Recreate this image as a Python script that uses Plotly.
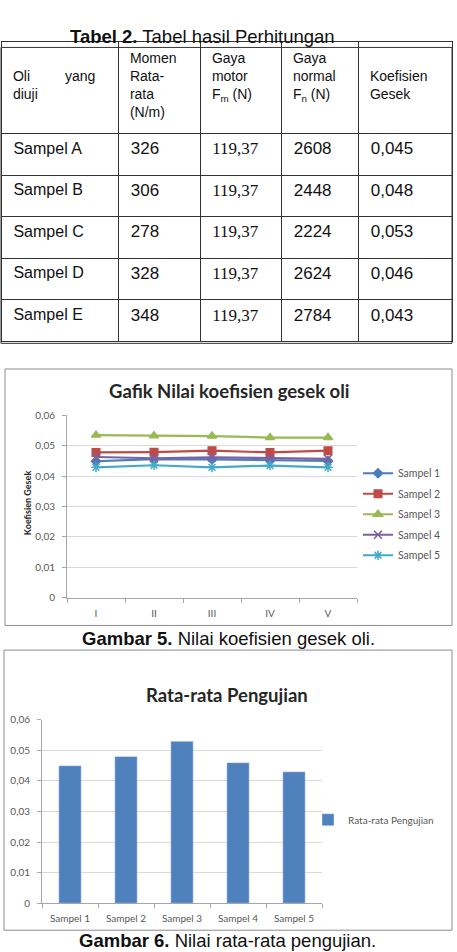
import plotly.graph_objects as go

W, H = 457, 952

# ---------------- data ----------------
table_header = ["Oli yang diuji", "Momen Rata-rata (N/m)", "Gaya motor Fm (N)",
                "Gaya normal Fn (N)", "Koefisien Gesek"]
oli = ["Sampel A", "Sampel B", "Sampel C", "Sampel D", "Sampel E"]
momen = ["326", "306", "278", "328", "348"]
gaya_motor = ["119,37", "119,37", "119,37", "119,37", "119,37"]
gaya_normal = ["2608", "2448", "2224", "2624", "2784"]
koef = ["0,045", "0,048", "0,053", "0,046", "0,043"]

pengujian = ["I", "II", "III", "IV", "V"]
series_names = ["Sampel 1", "Sampel 2", "Sampel 3", "Sampel 4", "Sampel 5"]
sampel1 = [0.0449, 0.0456, 0.0455, 0.0452, 0.0450]
sampel2 = [0.0478, 0.0479, 0.0484, 0.0478, 0.0484]
sampel3 = [0.0535, 0.0533, 0.0532, 0.0527, 0.0527]
sampel4 = [0.0463, 0.0459, 0.0462, 0.0459, 0.0457]
sampel5 = [0.0429, 0.0436, 0.0429, 0.0435, 0.0429]

bar_categories = ["Sampel 1", "Sampel 2", "Sampel 3", "Sampel 4", "Sampel 5"]
rata_rata = [0.045, 0.048, 0.053, 0.046, 0.043]


def px(x):
    return x / W


def py(y):
    return 1 - y / H


NB = "\u00a0"
CHART_FONT = "Lato, Open Sans, sans-serif"
TEXT_FONT = "Liberation Sans, Arial, sans-serif"
GRAY = "#595959"

fig = go.Figure()

# ---------------- table ----------------
header_vals = [
    NB + "<br>" + NB + "Oli" + NB * 9 + "yang<br>" + NB + "diuji",
    NB + "Momen<br>" + NB + "Rata-<br>" + NB + "rata<br>" + NB + "(N/m)",
    NB + "Gaya<br>" + NB + "motor<br>" + NB + "F<sub>m</sub> (N)",
    NB + "Gaya<br>" + NB + "normal<br>" + NB + "F<sub>n</sub> (N)",
    NB + "<br>" + NB + "Koefisien<br>" + NB + "Gesek",
]
fig.add_trace(go.Table(
    domain=dict(x=[px(1), px(452)], y=[py(343), py(35)]),
    columnwidth=[117, 82, 81, 77, 94],
    header=dict(values=header_vals, height=92, align="left",
                fill_color="white", line=dict(color="#333", width=1),
                font=dict(family=TEXT_FONT, size=14, color="#111")),
    cells=dict(values=[[NB + v for v in oli], [NB + v for v in momen],
                       [NB + v for v in gaya_motor], [NB + v for v in gaya_normal],
                       [NB + v for v in koef]],
               height=41.6, align="left", fill_color="white",
               line=dict(color="#333", width=1),
               font=dict(family=[TEXT_FONT, TEXT_FONT, "Liberation Serif, serif",
                                 TEXT_FONT, TEXT_FONT],
                         size=[16, 17, 17, 17, 17], color="#111")),
))

# ---------------- line chart ----------------
colors = ["#4a7ebb", "#be4b48", "#98b954", "#7d60a0", "#46aac5"]
symbols = ["diamond", "square", "triangle-up", "x-thin-open", "asterisk-open"]
msizes = [7, 7.5, 8, 8, 8]
for i, (name, vals) in enumerate(zip(series_names, [sampel1, sampel2, sampel3, sampel4, sampel5])):
    fig.add_trace(go.Scatter(
        x=pengujian, y=vals, name=name, mode="lines+markers",
        line=dict(color=colors[i], width=2.2),
        marker=dict(symbol=symbols[i], size=msizes[i], color=colors[i],
                    line=dict(color=colors[i], width=1.5)),
        xaxis="x", yaxis="y", legend="legend", legendgroup=name,
    ))

# ---------------- bar chart ----------------
fig.add_trace(go.Bar(
    x=bar_categories, y=rata_rata, name="Rata-rata Pengujian",
    marker=dict(color="#4f81bd"), xaxis="x2", yaxis="y2", legend="legend2",
))

axis_common = dict(
    showline=True, linecolor="#a6a6a6", linewidth=1,
    tickfont=dict(family=CHART_FONT, size=10, color=GRAY),
    zeroline=False, ticks="outside", ticklen=4, tickcolor="#a6a6a6",
)
xaxis_common = dict(range=[-0.5, 4.5], type="category", tickson="boundaries",
                    showgrid=False, ticklabelstandoff=6, **axis_common)
yaxis_common = dict(range=[0, 0.06], dtick=0.01, showgrid=True, gridcolor="#d9d9d9",
                    gridwidth=1, ticklabelstandoff=5, **axis_common)

fig.update_layout(
    width=W, height=H, margin=dict(l=0, r=0, t=0, b=0),
    paper_bgcolor="white", plot_bgcolor="white",
    separators=",.",
    bargap=0.6,
    xaxis=dict(domain=[px(67), px(357)], anchor="y", **xaxis_common),
    yaxis=dict(domain=[py(599), py(414)], anchor="x", **yaxis_common),
    xaxis2=dict(domain=[px(42), px(322)], anchor="y2", **xaxis_common),
    yaxis2=dict(domain=[py(908.7), py(722.7)], anchor="x2", **yaxis_common),
    legend=dict(x=px(358), y=py(458), xanchor="left", yanchor="top",
                font=dict(family=CHART_FONT, size=10.5, color=GRAY),
                bgcolor="rgba(0,0,0,0)", tracegroupgap=1.5, itemwidth=30),
    legend2=dict(x=px(308), y=py(824), xanchor="left", yanchor="middle",
                 font=dict(family=CHART_FONT, size=10, color=GRAY),
                 bgcolor="rgba(0,0,0,0)"),
    showlegend=True,
)

# outer border of the table and boxes around charts
fig.add_shape(type="rect", xref="paper", yref="paper",
              x0=px(1), x1=px(452), y0=py(341), y1=py(41),
              line=dict(color="#333", width=1))
fig.add_shape(type="rect", xref="paper", yref="paper",
              x0=px(5), x1=px(452), y0=py(627), y1=py(367),
              line=dict(color="#8c8c8c", width=1))
fig.add_shape(type="rect", xref="paper", yref="paper",
              x0=px(4), x1=px(452), y0=py(936), y1=py(652),
              line=dict(color="#8c8c8c", width=1))

# texts
def note(x, y, text, size, family, color, angle=0):
    fig.add_annotation(x=px(x), y=py(y), xref="paper", yref="paper",
                       xanchor="center", yanchor="middle", textangle=angle,
                       text=text, showarrow=False,
                       font=dict(family=family, size=size, color=color))


note(202, 30, "<b>Tabel 2.</b> Tabel hasil Perhitungan", 18.5, TEXT_FONT, "#111")
note(229, 389, "<b>Gafik Nilai koefisien gesek oli</b>", 18.5, CHART_FONT, "#262626")
note(27, 503, "<b>Koefisien Gesek</b>", 9, CHART_FONT, "#262626", -90)
note(228, 640, "<b>Gambar 5.</b> Nilai koefisien gesek oli.", 18.5, TEXT_FONT, "#111")
note(227, 698, "<b>Rata-rata Pengujian</b>", 18.5, CHART_FONT, "#262626")
note(227, 946, "<b>Gambar 6.</b> Nilai rata-rata pengujian.", 18.5, TEXT_FONT, "#111")

fig.write_html("out.html")
